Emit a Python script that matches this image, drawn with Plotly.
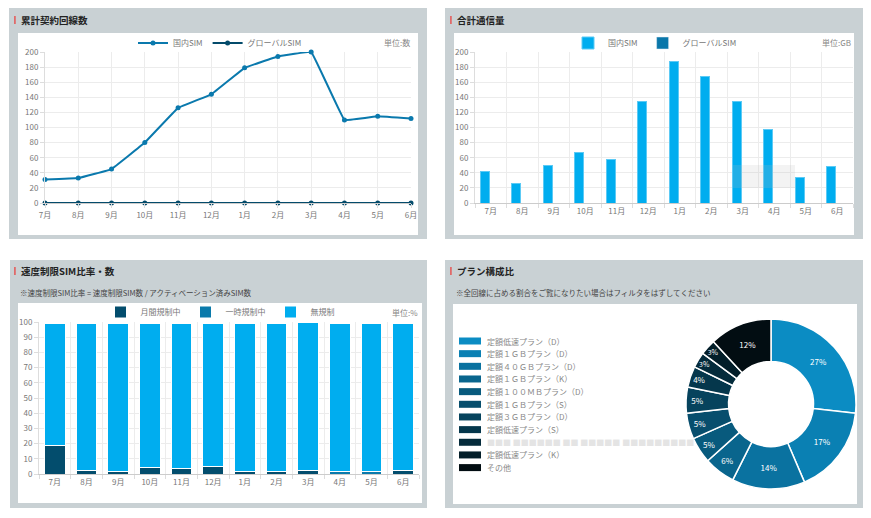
import plotly.graph_objects as go

OFF = 8  # page body margin
W, H = 871 - OFF, 518 - OFF
FONT = "Noto Sans CJK JP, Noto Sans, sans-serif"

# ---------------- data ----------------
months = ["7月", "8月", "9月", "10月", "11月", "12月", "1月", "2月", "3月", "4月", "5月", "6月"]

# 累計契約回線数
lines_domestic = [31, 33, 45, 80, 126, 144, 179, 194, 200, 110, 115, 112]
lines_global = [0, 0, 0, 0, 0, 0, 0, 0, 0, 0, 0, 0]

# 合計通信量 (GB)
traffic_domestic = [42, 26, 50, 67, 58, 134, 187, 167, 134, 97, 34, 49]
traffic_global = [0, 0, 0, 0, 0, 0, 0, 0, 0, 0, 0, 0]

# 速度制限SIM比率 (%)
thr_monthly = [18.8, 2.4, 1.5, 4.6, 3.7, 4.8, 1.5, 1.5, 2.4, 0, 0, 2.4]
thr_temp = [0, 0, 0, 0, 0, 0, 0, 0, 0, 1.5, 1.5, 0]
thr_none = [80.5, 96.9, 97.8, 94.7, 95.6, 94.5, 97.8, 97.8, 97.6, 97.8, 97.8, 96.9]

# プラン構成比
plan_labels = ["定額低速プラン（D）", "定額１ＧＢプラン（D）", "定額４０ＧＢプラン（D）",
               "定額１ＧＢプラン（K）", "定額１００ＭＢプラン（D）", "定額１ＧＢプラン（S）",
               "定額３ＧＢプラン（D）", "定額低速プラン（S）", "■■■ ■■■■■■ ■■ ■■■■■ ■■■■■■■■■",
               "定額低速プラン（K）", "その他"]
plan_values = [27, 17, 14, 6, 5, 5, 5, 4, 3, 3, 12]
plan_colors = ["#0b8cc3", "#0a80b3", "#0a72a0", "#09658d", "#085a7d", "#074e6d",
               "#06435d", "#05374c", "#042b3b", "#031e29", "#020d12"]


def px(x):
    return (x - OFF) / W


def py(y):
    return 1 - (y - OFF) / H


fig = go.Figure()

# Panel 1 lines
fig.add_trace(go.Scatter(x=months, y=lines_domestic, name="国内SIM", mode="lines+markers",
                         line=dict(color="#0a79ad", width=2, shape="spline", smoothing=0.15),
                         marker=dict(size=5, color="#0a79ad"), cliponaxis=False,
                         xaxis="x", yaxis="y", legend="legend"))
fig.add_trace(go.Scatter(x=months, y=lines_global, name="グローバルSIM", mode="lines+markers",
                         line=dict(color="#044b6b", width=2),
                         marker=dict(size=5, color="#044b6b"), cliponaxis=False,
                         xaxis="x", yaxis="y", legend="legend"))

# Panel 2 bars (global first so that the zero-height bars stay at the baseline)
fig.add_trace(go.Bar(x=months, y=traffic_global, name="グローバルSIM", marker=dict(color="#0a77aa"),
                     width=0.29, offset=0.02, xaxis="x2", yaxis="y2", legend="legend2",
                     legendrank=2))
fig.add_trace(go.Bar(x=months, y=traffic_domestic, name="国内SIM", marker=dict(color="#00adef",
                     line=dict(color="#5ccaf5", width=1)), width=0.29, offset=-0.34,
                     xaxis="x2", yaxis="y2", legend="legend2", legendrank=1))

# Panel 3 stacked bars
for vals, nm, col in [(thr_monthly, "月間規制中", "#034d6d"),
                      (thr_temp, "一時規制中", "#0a7aab"),
                      (thr_none, "無規制", "#00adef")]:
    fig.add_trace(go.Bar(x=months, y=vals, name=nm, width=0.66,
                         marker=dict(color=col, line=dict(color="white", width=1)),
                         xaxis="x3", yaxis="y3", legend="legend3"))

# Panel 4 donut
fig.add_trace(go.Pie(labels=plan_labels, values=plan_values, sort=False, direction="clockwise",
                     rotation=0, hole=0.5, showlegend=False,
                     marker=dict(colors=plan_colors, line=dict(color="white", width=1.5)),
                     texttemplate="%{percent:.0%}", textposition="inside",
                     insidetextorientation="horizontal",
                     textfont=dict(color="white", size=8, family=FONT),
                     domain=dict(x=[px(686), px(856)], y=[py(489), py(319)])))

shapes = []
annotations = []

# cards
cards = [
    (9, 7, 427, 239, 18, 33, 418, 235, "累計契約回線数", 14, 20, None),
    (445, 7, 863, 239, 454, 33, 854, 235, "合計通信量", 450, 20, None),
    (10, 260, 427, 508, 18, 303, 422, 503, "速度制限SIM比率・数", 14, 271,
     "※速度制限SIM比率 = 速度制限SIM数 / アクティベーション済みSIM数"),
    (445, 260, 863, 508, 453, 304, 857, 504, "プラン構成比", 450, 271,
     "※全回線に占める割合をご覧になりたい場合はフィルタをはずしてください"),
]
for (cx0, cy0, cx1, cy1, wx0, wy0, wx1, wy1, title, tx, ty, sub) in cards:
    shapes.append(dict(type="rect", xref="paper", yref="paper", layer="below",
                       x0=px(cx0), x1=px(cx1), y0=py(cy1), y1=py(cy0),
                       fillcolor="#c9d1d4", line=dict(width=0)))
    shapes.append(dict(type="rect", xref="paper", yref="paper", layer="below",
                       x0=px(wx0), x1=px(wx1), y0=py(wy1), y1=py(wy0),
                       fillcolor="white", line=dict(width=0)))
    shapes.append(dict(type="rect", xref="paper", yref="paper", layer="below",
                       x0=px(tx), x1=px(tx + 1.8), y0=py(ty + 4), y1=py(ty - 4),
                       fillcolor="#e06a6a", line=dict(width=0)))
    annotations.append(dict(text="<b>" + title + "</b>", x=px(tx + 5), y=py(ty), xref="paper",
                            yref="paper", xanchor="left", yanchor="middle", showarrow=False,
                            font=dict(size=9.5, color="#222", family=FONT)))
    if sub:
        annotations.append(dict(text=sub, x=px(tx + 4), y=py(ty + 21), xref="paper",
                                yref="paper", xanchor="left", yanchor="middle", showarrow=False,
                                font=dict(size=7.5, color="#444", family=FONT)))

# faint tooltip remnant in panel 2
shapes.append(dict(type="rect", xref="paper", yref="paper", layer="above",
                   x0=px(733), x1=px(795), y0=py(188), y1=py(165),
                   fillcolor="rgba(190,190,190,0.18)", line=dict(width=0)))

# unit labels
for txt, xr, yc in [("単位:数", 412, 43), ("単位:GB", 853, 43), ("単位:%", 420, 312)]:
    annotations.append(dict(text=txt, x=px(xr), y=py(yc), xref="paper", yref="paper",
                            xanchor="right", yanchor="middle", showarrow=False,
                            font=dict(size=8, color="#888", family=FONT)))

# manual legend for donut
for i, (lab, col) in enumerate(zip(plan_labels, plan_colors)):
    yc = 341 + 12.66 * i
    shapes.append(dict(type="rect", xref="paper", yref="paper",
                       x0=px(459), x1=px(481), y0=py(yc + 3.5), y1=py(yc - 3.5),
                       fillcolor=col, line=dict(width=0)))
    annotations.append(dict(text=lab, x=px(485), y=py(yc), xref="paper", yref="paper",
                            xanchor="left", yanchor="middle", showarrow=False,
                            font=dict(size=8, color="#e4e4e4" if i == 8 else "#888", family=FONT)))

GRID = "#ececec"
TICKF = dict(size=8, color="#777", family=FONT)


def xax(dom, boundaries=False, rng=None):
    d = dict(domain=dom, type="category", showgrid=True, gridcolor=GRID, gridwidth=1,
             ticks="outside", ticklen=4, tickcolor="#ddd", tickfont=TICKF,
             showline=True, linecolor="#ccc", linewidth=1, fixedrange=True, automargin=False)
    if boundaries:
        d["tickson"] = "boundaries"
    if rng:
        d["range"] = rng
    return d


def yax(dom, rng, dt, anchor):
    return dict(domain=dom, range=rng, dtick=dt, showgrid=True, gridcolor=GRID, gridwidth=1,
                ticks="outside", ticklen=4, tickcolor="#ddd", tickfont=TICKF,
                showline=True, linecolor="#ddd", zeroline=False, anchor=anchor,
                fixedrange=True, automargin=False)


leg = dict(orientation="h", xanchor="center", yanchor="middle", bgcolor="rgba(0,0,0,0)",
           font=dict(size=8, color="#777", family=FONT), itemwidth=30, tracegroupgap=0,
           traceorder="normal")

fig.update_layout(
    width=W, height=H, margin=dict(l=0, r=0, t=0, b=0, pad=0, autoexpand=False),
    paper_bgcolor="white", plot_bgcolor="rgba(0,0,0,0)",
    font=dict(family=FONT, size=8, color="#777"),
    barmode="stack",
    xaxis=dict(xax([px(45), px(411)], rng=[0, 11]), anchor="y"),
    yaxis=yax([py(203), py(52)], [0, 200], 20, "x"),
    xaxis2=dict(xax([px(475), px(853)], boundaries=True), anchor="y2"),
    yaxis2=yax([py(203), py(52)], [0, 200], 20, "x2"),
    xaxis3=dict(xax([px(39), px(419)], boundaries=True), anchor="y3"),
    yaxis3=yax([py(474), py(322)], [0, 100], 10, "x3"),
    legend=dict(leg, x=px(220), y=py(43)),
    legend2=dict(leg, x=px(655), y=py(43)),
    legend3=dict(leg, x=px(220), y=py(312)),
    shapes=shapes, annotations=annotations,
)

fig.write_html("out.html")
